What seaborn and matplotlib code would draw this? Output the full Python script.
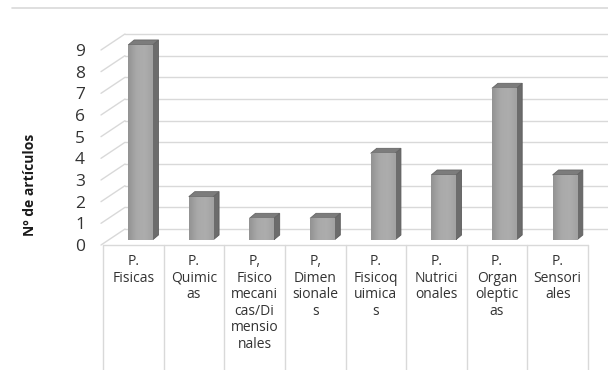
import matplotlib
matplotlib.use("Agg")
import matplotlib.pyplot as plt
import matplotlib.transforms as mtransforms
from matplotlib.patches import Polygon
from matplotlib.lines import Line2D
from matplotlib.colors import LinearSegmentedColormap
import seaborn as sns
import numpy as np

categories = ["P.\nFisicas", "P.\nQuimic\nas", "P,\nFisico\nmecani\ncas/Di\nmensio\nnales",
              "P,\nDimen\nsionale\ns", "P.\nFisicoq\nuimica\ns", "P.\nNutrici\nonales",
              "P.\nOrgan\noleptic\nas", "P.\nSensori\nales"]
values = [9, 2, 1, 1, 4, 3, 7, 3]
yticks = list(range(10))
ylabel = "Nº de artículos"

sns.set_theme(style="white")
plt.rcParams['font.family'] = ['Open Sans', 'DejaVu Sans']

W, H, DPI = 608, 370, 100
fig = plt.figure(figsize=(W / DPI, H / DPI), dpi=DPI)

ax_l, ax_r, ax_b = 110, 595, 240
unit = 21.67
ymax = 10
ax = fig.add_axes([ax_l / W, (H - ax_b) / H, (ax_r - ax_l) / W, ymax * unit / H])

sns.barplot(x=list(range(len(values))), y=values, color="#a6a6a6", saturation=1,
            width=0.4, ax=ax, edgecolor="#808080", linewidth=0.6, zorder=3)
ax.set_xlim(-0.5, len(values) - 0.5)
ax.set_ylim(0, ymax)
for s in ax.spines.values():
    s.set_visible(False)

pxx = 1.0 / ((ax_r - ax_l) / len(values))
pxy = 1.0 / unit
grid_c = "#d9d9d9"

bdx, bdy = 15 * pxx, 11 * pxy     # back wall offset
fdx, fdy = -7 * pxx, -5 * pxy     # front edge offset

x0, x1 = -0.5, len(values) - 0.5
for v in yticks:
    ax.plot([x0 + bdx, x1 + bdx + 1], [v + bdy, v + bdy], color=grid_c, lw=1.0,
            clip_on=False, zorder=1)
    ax.plot([x0 + fdx - 2 * pxx, x0 + bdx], [v + fdy, v + bdy], color=grid_c, lw=1.0,
            clip_on=False, zorder=1)

ybot = -(H - ax_b) * pxy
ax.plot([x0 + fdx, x1 + fdx], [fdy, fdy], color=grid_c, lw=1.0, clip_on=False, zorder=1)
for i in range(len(values) + 1):
    xb = x0 + i + fdx
    ax.plot([xb, xb], [fdy, ybot], color=grid_c, lw=1.0, clip_on=False, zorder=1)

cmap = LinearSegmentedColormap.from_list("bar", ["#939393", "#a9a9a9", "#adadad", "#a2a2a2"])
ddx, ddy = 6 * pxx, 5 * pxy
for p in list(ax.patches):
    x, w, h = p.get_x(), p.get_width(), p.get_height()
    side = Polygon([[x + w, 0], [x + w + ddx, ddy], [x + w + ddx, h + ddy], [x + w, h]],
                   closed=True, facecolor="#6c6c6c", edgecolor="#5c5c5c", lw=0.6, zorder=3)
    top = Polygon([[x, h], [x + ddx, h + ddy], [x + w + ddx, h + ddy], [x + w, h]],
                  closed=True, facecolor="#7c7c7c", edgecolor="#666666", lw=0.6, zorder=3)
    ax.add_patch(side)
    ax.add_patch(top)
    grad = np.linspace(0, 1, 50)[np.newaxis, :]
    im = ax.imshow(grad, extent=[x, x + w, 0, h], aspect="auto", cmap=cmap,
                   vmin=0, vmax=1, zorder=3.5)
    im.set_clip_path(p)
ax.set_xlim(-0.5, len(values) - 0.5)
ax.set_ylim(0, ymax)

ax.set_yticks(yticks)
ax.set_yticklabels([str(v) for v in yticks], fontsize=12.5, color="#333333")
ax.tick_params(axis="y", length=0, pad=18)
off_y = mtransforms.ScaledTranslation(0, -5 / DPI, fig.dpi_scale_trans)
for lab in ax.get_yticklabels():
    lab.set_transform(lab.get_transform() + off_y)

ax.set_xticks(range(len(values)))
ax.set_xticklabels(categories, fontsize=10, color="#333333", linespacing=1.15)
ax.tick_params(axis="x", length=0, pad=10)
off_x = mtransforms.ScaledTranslation(-7 / DPI, 0, fig.dpi_scale_trans)
for lab in ax.get_xticklabels():
    lab.set_transform(lab.get_transform() + off_x)
    lab.set_multialignment("center")

ax.set_ylabel(ylabel, fontsize=10, fontweight="bold", color="#1a1a1a")
ax.yaxis.set_label_coords((37 - ax_l) / (ax_r - ax_l), (ax_b - 185) / (ymax * unit))
ax.set_xlabel("")

fig.add_artist(Line2D([12 / W, 1], [1 - 8 / H, 1 - 8 / H], color="#d9d9d9", lw=1.2,
                      transform=fig.transFigure))

fig.savefig("out.png", dpi=DPI, facecolor="white")
